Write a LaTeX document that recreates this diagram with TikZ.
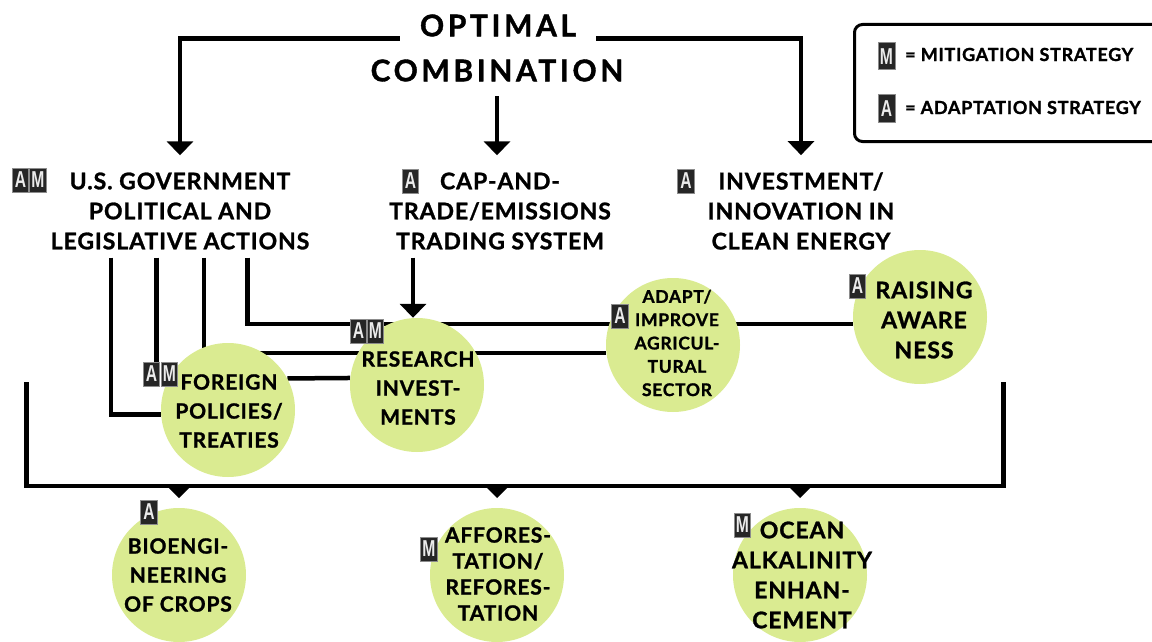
\documentclass[tikz,border=0pt]{standalone}
\usepackage{fontspec}
\usetikzlibrary{arrows.meta,calc}

\newfontfamily\lbfont{Lato}[LetterSpace=4,FakeBold=1.2]
\newfontfamily\ttlfont{Lato}[LetterSpace=12,FakeBold=1.2]
\newfontfamily\tilefont{Liberation Sans}
\definecolor{lime}{RGB}{218,235,145}
\newcommand\tletter[1]{\scalebox{.68}[1]{#1}}

\pgfdeclarelayer{bg}
\pgfsetlayers{bg,main}

\tikzset{
	wire/.style={line width=4.5pt},
	arr/.style={line width=4.5pt, -{Triangle[width=26pt,length=14pt]}},
	bubble/.style={circle, fill=lime, minimum size=134pt, inner sep=0pt},
	lbl/.style={align=center, inner sep=0pt, font=\lbfont\bfseries\fontsize{23}{30}\selectfont},
	lblsmall/.style={lbl, font=\lbfont\bfseries\fontsize{21}{29}\selectfont},
	tile/.style={fill=black!85, draw=black!45, line width=1pt, text=white!92!black, font=\tilefont\bfseries\fontsize{23}{23}\selectfont, minimum width=16.5pt, minimum height=24pt, inner sep=0pt}
}

\begin{document}
\begin{tikzpicture}[x=1pt,y=-1pt]

\useasboundingbox (0,0) rectangle (1152,642);

% headings
\node[lbl, font=\ttlfont\bfseries\fontsize{30}{30}\selectfont, inner xsep=20pt] (opt) at (498,25.5) {OPTIMAL};
\node[lbl, font=\ttlfont\bfseries\fontsize{30}{30}\selectfont] (comb) at (497,70.5) {COMBINATION};
\node[lbl] (gov) at (180,211) {U.S. GOVERNMENT\\POLITICAL AND\\LEGISLATIVE ACTIONS};
\node[lbl] (cap) at (500,211) {CAP-AND-\\TRADE/EMISSIONS\\TRADING SYSTEM};
\node[lbl] (inv) at (801,211) {INVESTMENT/\\INNOVATION IN\\CLEAN ENERGY};

% bubbles
\node[bubble] (foreign) at (228,410) {};
\node[bubble] (research) at (417,385) {};
\node[bubble] (adapt) at (673,345) {};
\node[bubble] (raising) at (920,317) {};
\node[bubble] (bio) at (179,575) {};
\node[bubble] (aff) at (497,575) {};
\node[bubble] (ocean) at (800,575) {};

\node[lblsmall] (foreignt) at (229,411) {FOREIGN\\POLICIES/\\TREATIES};
\node[lblsmall] (researcht) at (418,388) {RESEARCH\\INVEST-\\MENTS};
\node[lbl, font=\lbfont\bfseries\fontsize{17.5}{23.3}\selectfont] (adaptt) at (677,343) {ADAPT/\\IMPROVE\\AGRICUL-\\TURAL\\SECTOR};
\node[lbl] (raisingt) at (924,320) {RAISING\\AWARE\\NESS};
\node[lblsmall] (biot) at (178,575) {BIOENGI-\\NEERING\\OF CROPS};
\node[lbl, font=\lbfont\bfseries\fontsize{21}{26}\selectfont] (afft) at (498,574) {AFFORES-\\TATION/\\REFORES-\\TATION};
\node[lbl] (oceant) at (802,575) {OCEAN\\ALKALINITY\\ENHAN-\\CEMENT};

% strategy tiles
\foreach \n/\x/\y/\l in {gA/20.5/180/A, gM/38/180/M, cA/410.5/181/A, iA/686/181/A,
		fA/151.5/374/A, fM/169.5/374/M, rA/358.5/331/A, rM/375.5/331/M,
		adA/620/316/A, raA/857.5/286/A, bA/149/512/A, afM/429/549/M, oM/742.5/525/M}
	\node[tile] (\n) at (\x,\y) {\tletter{\l}};

% legend
\node[draw, line width=3pt, rounded corners=8pt, fill=white, minimum width=330pt, minimum height=117pt, anchor=north west] (legend) at (853,23) {};
\node[tile, minimum width=17pt, minimum height=27pt] (legM) at (886.5,56.5) {\tletter{M}};
\node[tile, minimum width=17pt, minimum height=27pt] (legA) at (886.5,108.5) {\tletter{A}};
\node[lbl, font=\lbfont\bfseries\fontsize{18}{18}\selectfont, anchor=west] (legMt) at (905,54.5) {= MITIGATION STRATEGY};
\node[lbl, font=\lbfont\bfseries\fontsize{18}{18}\selectfont, anchor=west] (legAt) at (905,107.5) {= ADAPTATION STRATEGY};

\coordinate (g1) at ($(gov.south)+(-69,8)$);
\coordinate (g2) at ($(gov.south)+(-23.5,8)$);
\coordinate (g3) at ($(gov.south)+(24,8)$);
\coordinate (g4) at ($(gov.south)+(67.5,8)$);
\coordinate (c1) at ($(cap.south)+(-87,8)$);
\coordinate (busL) at (26.5,382);
\coordinate (busLB) at (26.5,486);
\coordinate (busRB) at (1003.5,486);
\coordinate (busR) at (1003.5,382);

\begin{pgfonlayer}{bg}
\draw[arr, shorten >=17pt] ([yshift=-2pt]opt.base west) -| (gov.north);
\draw[arr, shorten >=17pt] ([yshift=-2pt]opt.base east) -| (inv.north);
\draw[arr, shorten >=17pt] ([yshift=-15pt]comb.base) -- (comb.base |- cap.north);

\draw[wire] (g1) |- (foreign.184);
\draw[wire] (g2) -- (g2 |- fA.north);
\draw[wire] (g3) |- (adapt.187);
\draw[wire] (g4) |- (raising.186);
\draw[wire] (foreign.28) -- (research.174);
\draw[arr] (c1) -- (c1 |- research.north);

\draw[wire] (busL) -- (busLB) -- (busRB) -- (busR);
\end{pgfonlayer}

\foreach \c in {bio,aff,ocean}
	\fill ($(\c.north |- busLB)+(-12,0)$) -- ++(24,0) -- ++(-12,12) -- cycle;

%\draw[red] (0,0) grid[step=50pt] (1152,642);

\end{tikzpicture}
\end{document}
